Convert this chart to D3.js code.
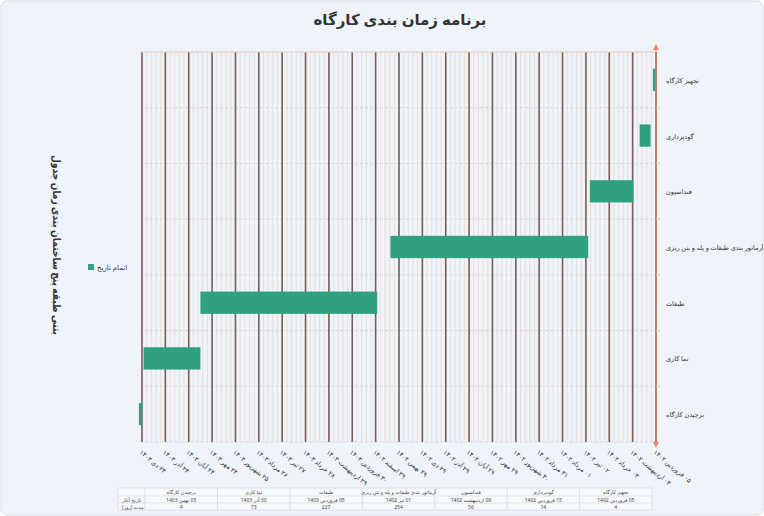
<!DOCTYPE html><html><head><meta charset="utf-8"><script src="https://cdn.jsdelivr.net/npm/d3@7"></script>
<style>body{margin:0;background:#fff;font-family:"Noto Sans","DejaVu Sans",sans-serif}</style></head><body><svg id="c" width="764" height="516"></svg>
<script>
const tasks=["تجهیز کارگاه","گودبرداری","فنداسیون","آرماتور بندی طبقات و پله و بتن ریزی","طبقات","نما کاری","برچیدن کارگاه"];
const startDay=[0,7,29,87,358,585,660];
const duration=[4,14,56,254,227,73,4];
const startLabel=["05 فروردین 1402","15 فروردین 1402","09 اردیبهشت 1402","01 تیر 1402","05 فروردین 1403","30 آذر 1403","05 بهمن 1403"];
const tickDays=d3.range(0,661,30);
const tickLabels=["۰۵ فروردین ۱۴۰۲","۰۴ اردیبهشت ۱۴۰۲","۰۳ خرداد ۱۴۰۲","۰۲ تیر ۱۴۰۲","۰۱ مرداد ۱۴۰۲","۳۱ مرداد ۱۴۰۲","۳۰ شهریور ۱۴۰۲","۲۹ مهر ۱۴۰۲","۲۹ آبان ۱۴۰۲","۲۹ آذر ۱۴۰۲","۲۹ دی ۱۴۰۲","۲۹ بهمن ۱۴۰۲","۲۹ اسفند ۱۴۰۲","۳۰ فروردین ۱۴۰۳","۲۹ اردیبهشت ۱۴۰۳","۲۸ خرداد ۱۴۰۳","۲۷ تیر ۱۴۰۳","۲۶ مرداد ۱۴۰۳","۲۵ شهریور ۱۴۰۳","۲۴ مهر ۱۴۰۳","۲۴ آبان ۱۴۰۳","۲۴ آذر ۱۴۰۳","۲۴ دی ۱۴۰۳"];
const yTitleWords=["جدول","زمان","بندی","ساختمان","پنج","طبقه","بتنی"];
const svg=d3.select("#c");
svg.append("rect").attr("x",1).attr("y",1).attr("width",762).attr("height",514).attr("rx",6).attr("fill","#eef4fa").attr("stroke","#d5dde6");
const L=140,R=656,T=52,B=442;
const x=d3.scaleLinear().domain([0,660]).range([R,142]);
const y=d3.scaleBand().domain(tasks).range([T,B]);
const g=svg.append("g");
d3.range(0,666,6).forEach(d=>{g.append("line").attr("x1",x(d)).attr("x2",x(d)).attr("y1",T).attr("y2",B).attr("stroke","#e4c9c4").attr("stroke-width",0.5);});
d3.range(0,8).forEach(i=>{const yy=T+i*y.step();g.append("line").attr("x1",L).attr("x2",R).attr("y1",yy).attr("y2",yy).attr("stroke","#d9c3c0").attr("stroke-dasharray","3,2").attr("stroke-width",0.6);});
tickDays.forEach(d=>{g.append("line").attr("x1",x(d)).attr("x2",x(d)).attr("y1",T).attr("y2",B).attr("stroke","#7b5c55").attr("stroke-width",1.6);});
svg.append("line").attr("x1",L).attr("x2",R).attr("y1",T).attr("y2",T).attr("stroke","#e9cfc8");
tasks.forEach((t,i)=>{svg.append("rect").attr("x",x(startDay[i]+duration[i])).attr("width",x(startDay[i])-x(startDay[i]+duration[i])).attr("y",y(t)+y.bandwidth()*0.3).attr("height",y.bandwidth()*0.4).attr("fill","#2fa17f");});
svg.append("line").attr("x1",R).attr("x2",R).attr("y1",T-4).attr("y2",B).attr("stroke","#e8875a");
svg.append("path").attr("d",`M${R-3},${T-2}L${R+3},${T-2}L${R},${T-8}Z`).attr("fill","#e8875a");
svg.append("path").attr("d",`M${R-3},${B}L${R+3},${B}L${R},${B+6}Z`).attr("fill","#e8875a");
d3.range(1,7).forEach(i=>{svg.append("line").attr("x1",R).attr("x2",R+4).attr("y1",T+i*y.step()).attr("y2",T+i*y.step()).attr("stroke","#ccc");});
tasks.forEach(t=>svg.append("text").attr("x",R+10).attr("y",y(t)+y.bandwidth()/2+3).attr("direction","rtl").attr("text-anchor","end").attr("font-size",6.5).attr("fill","#333").text(t));
tickDays.forEach((d,i)=>{svg.append("text").attr("transform",`translate(${x(d)-3},${B+11}) rotate(40)`).attr("font-size",6.5).attr("fill","#333").attr("direction","rtl").attr("text-anchor","end").text(tickLabels[i]);});
svg.append("text").attr("x",400).attr("y",25).attr("text-anchor","middle").attr("font-size",15).attr("font-weight","bold").attr("fill","#333").text("برنامه زمان بندی کارگاه");
svg.append("text").attr("transform","translate(53,245) rotate(90)").attr("text-anchor","middle").attr("font-size",11).attr("font-weight","bold").attr("fill","#333").attr("textLength",180).attr("lengthAdjust","spacingAndGlyphs").text(yTitleWords.slice().reverse().join(" "));
svg.append("rect").attr("x",88).attr("y",264).attr("width",6).attr("height",6).attr("fill","#2fa17f");
svg.append("text").attr("x",97).attr("y",270).attr("font-size",7).attr("fill","#333").attr("direction","rtl").attr("text-anchor","end").text("اتمام تاریخ");
const tx=d3.scaleBand().domain(tasks).range([652,145]);
svg.append("rect").attr("x",118).attr("y",488).attr("width",534).attr("height",22).attr("fill","#f7f9fb").attr("stroke","#dde");
[496,503].forEach(yy=>svg.append("line").attr("x1",118).attr("x2",652).attr("y1",yy).attr("y2",yy).attr("stroke","#e3e6ea"));
tasks.forEach((t,i)=>{const cx=tx(t)+tx.bandwidth()/2;
svg.append("line").attr("x1",tx(t)).attr("x2",tx(t)).attr("y1",488).attr("y2",510).attr("stroke","#dde");
[[494,t],[501.5,startLabel[i]],[508.5,duration[i]]].forEach(([yy,s])=>svg.append("text").attr("x",cx).attr("y",yy).attr("text-anchor","middle").attr("direction","rtl").attr("font-size",5).attr("fill","#444").text(s));});
svg.append("text").attr("x",122).attr("y",501.5).attr("font-size",5).attr("fill","#444").attr("direction","rtl").attr("text-anchor","end").text("تاریخ آغاز");
svg.append("text").attr("x",122).attr("y",508.5).attr("font-size",5).attr("fill","#444").attr("direction","rtl").attr("text-anchor","end").text("مدت (روز)");
</script></body></html>
